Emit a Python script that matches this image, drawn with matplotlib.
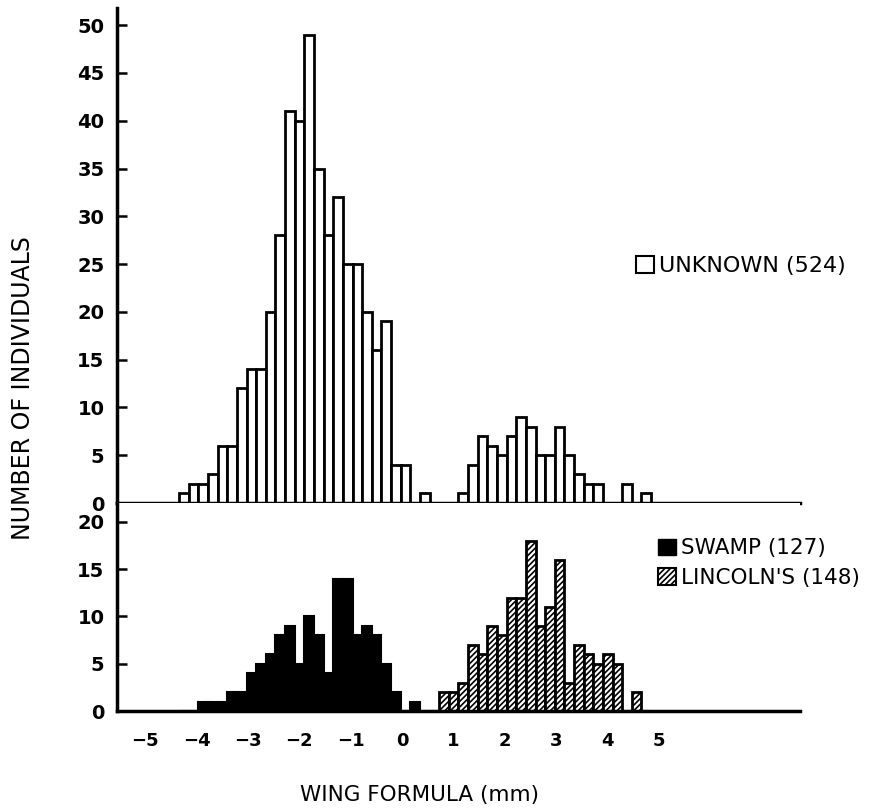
import numpy as np
import matplotlib
matplotlib.use("Agg")
import matplotlib.pyplot as plt
from matplotlib.patches import Patch

plt.rcParams['font.family'] = ['DejaVu Sans']
plt.rcParams['hatch.linewidth'] = 1.2

# wing formula classes (mm), lower edge of first class and class width
first_edge = -4.34
bin_width = 0.1874

# counts per class
unknown = [1, 2, 2, 3, 6, 6, 12, 14, 14, 20, 28, 41, 40, 49, 35, 28, 32, 25, 25,
           20, 16, 19, 4, 4, 0, 1, 0, 0, 0, 1, 4, 7, 6, 5, 7, 9, 8, 5, 5, 8, 5,
           3, 2, 2, 0, 0, 2, 0, 1]
swamp = [0, 0, 1, 1, 1, 2, 2, 4, 5, 6, 8, 9, 5, 10, 8, 4, 14, 14, 8, 9, 8, 5, 2,
         0, 1, 0, 0, 0, 0, 0, 0, 0, 0, 0, 0, 0, 0, 0, 0, 0, 0, 0, 0, 0, 0, 0, 0,
         0, 0]
lincoln = [0, 0, 0, 0, 0, 0, 0, 0, 0, 0, 0, 0, 0, 0, 0, 0, 0, 0, 0, 0, 0, 0, 0,
           0, 0, 0, 0, 2, 2, 3, 7, 6, 9, 8, 12, 12, 18, 9, 11, 16, 3, 7, 6, 5, 6,
           5, 0, 2, 0]

xticks = [-5, -4, -3, -2, -1, 0, 1, 2, 3, 4, 5]
labels = {"unknown": "UNKNOWN (524)", "swamp": "SWAMP (127)",
          "lincoln": "LINCOLN'S (148)"}

edges = first_edge + bin_width * np.arange(len(unknown))

fig = plt.figure(figsize=(8.71, 8.09), dpi=100)
ax1 = fig.add_axes([0.1343, 0.3782, 0.7842, 0.6119])
ax2 = fig.add_axes([0.1343, 0.1211, 0.7842, 0.2571])

xmin, xmax = -5.55, 7.74

# top: unknown birds, open bars
ax1.bar(edges, unknown, width=bin_width, align='edge', facecolor='white',
        edgecolor='black', linewidth=2)
ax1.set_xlim(xmin, xmax)
ax1.set_ylim(0, 51.8)
ax1.set_yticks(range(0, 51, 5))
ax1.set_xticks([])

# bottom: known birds
ax2.bar(edges, swamp, width=bin_width, align='edge', facecolor='black',
        edgecolor='black', linewidth=1.5)
ax2.bar(edges, lincoln, width=bin_width, align='edge', facecolor='white',
        edgecolor='black', linewidth=2, hatch='//////')
ax2.set_xlim(xmin, xmax)
ax2.set_ylim(0, 22)
ax2.set_yticks(range(0, 21, 5))
ax2.set_xticks(xticks)
ax2.set_xticklabels([f"\u2212{abs(v)}" if v < 0 else str(v) for v in xticks])

for ax in (ax1, ax2):
    for s in ('top', 'right'):
        ax.spines[s].set_visible(False)
    ax.spines['left'].set_linewidth(2.5)
    ax.spines['bottom'].set_linewidth(2.5)
    ax.tick_params(axis='y', direction='in', length=7, width=1.8,
                   labelsize=14, pad=9)
    for t in ax.get_yticklabels():
        t.set_fontweight('bold')
ax2.tick_params(axis='x', length=0, labelsize=13, pad=15)
for t in ax2.get_xticklabels():
    t.set_fontweight('bold')

# legends
fig.legend(handles=[Patch(facecolor='white', edgecolor='black',
                          linewidth=1.5, label=labels["unknown"])],
           loc='center left', bbox_to_anchor=(0.730, 0.671),
           frameon=False, fontsize=16, handlelength=0.8,
           handleheight=0.8, handletextpad=0.25, borderpad=0,
           borderaxespad=0)
fig.legend(handles=[Patch(facecolor='black', edgecolor='black',
                          label=labels["swamp"]),
                    Patch(facecolor='white', edgecolor='black',
                          linewidth=1.5, hatch='//////',
                          label=labels["lincoln"])],
           loc='center left', bbox_to_anchor=(0.756, 0.304),
           frameon=False, fontsize=15.5, handlelength=0.8,
           handleheight=0.8, handletextpad=0.25, labelspacing=0.45,
           borderpad=0, borderaxespad=0)

fig.text(0.026, 0.52, "NUMBER OF INDIVIDUALS", rotation=90, ha='center',
         va='center', fontsize=17)
fig.text(0.482, 0.017, "WING FORMULA (mm)", ha='center', va='center',
         fontsize=15.5)

fig.savefig("out.png", dpi=100)
